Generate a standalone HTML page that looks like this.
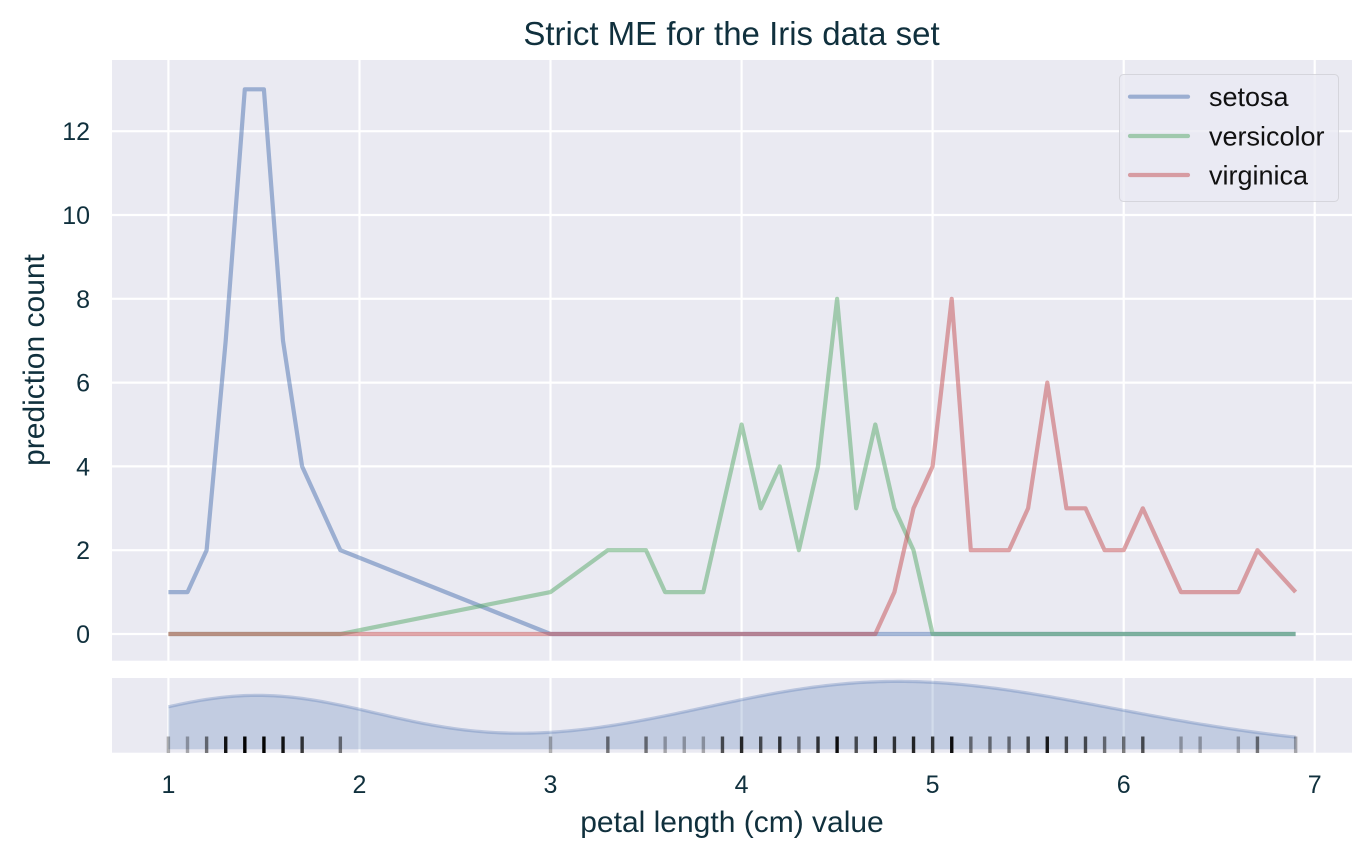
<!DOCTYPE html>
<html>
<head>
<meta charset="utf-8">
<style>
html,body{margin:0;padding:0;background:#ffffff;}
svg{display:block;font-family:"Liberation Sans",Arial,sans-serif;}
</style>
</head>
<body>
<svg id="chart" width="1371" height="860" viewBox="0 0 1371 860" xmlns="http://www.w3.org/2000/svg">
  <rect x="0" y="0" width="1371" height="860" fill="#ffffff"/>

  <!-- title -->
  <text x="731.5" y="45" font-size="33" fill="#10303d" text-anchor="middle">Strict ME for the Iris data set</text>

  <!-- main axes background -->
  <rect x="112" y="60" width="1240" height="600.7" fill="#eaeaf2"/>
  <g stroke="#ffffff" stroke-width="2.2">
    <line x1="168.4" y1="60" x2="168.4" y2="660.7"/>
    <line x1="359.5" y1="60" x2="359.5" y2="660.7"/>
    <line x1="550.5" y1="60" x2="550.5" y2="660.7"/>
    <line x1="741.6" y1="60" x2="741.6" y2="660.7"/>
    <line x1="932.6" y1="60" x2="932.6" y2="660.7"/>
    <line x1="1123.7" y1="60" x2="1123.7" y2="660.7"/>
    <line x1="1314.7" y1="60" x2="1314.7" y2="660.7"/>
    <line x1="112" y1="634" x2="1352" y2="634"/>
    <line x1="112" y1="550.2" x2="1352" y2="550.2"/>
    <line x1="112" y1="466.4" x2="1352" y2="466.4"/>
    <line x1="112" y1="382.6" x2="1352" y2="382.6"/>
    <line x1="112" y1="298.8" x2="1352" y2="298.8"/>
    <line x1="112" y1="215" x2="1352" y2="215"/>
    <line x1="112" y1="131.2" x2="1352" y2="131.2"/>
  </g>

  <!-- series -->
  <g fill="none" stroke-width="4.2" stroke-linejoin="round" stroke-linecap="butt" stroke-opacity="0.5">
    <polyline stroke="#4C72B0" points="168.4,592.1 187.5,592.1 206.6,550.2 225.7,340.7 244.8,89.3 263.9,89.3 283.0,340.7 302.1,466.4 340.4,550.2 550.5,634 1295.6,634"/>
    <polyline stroke="#55A868" points="168.4,634 340.4,634 550.5,592.1 607.8,550.2 646.0,550.2 665.1,592.1 684.2,592.1 703.3,592.1 722.4,508.3 741.6,424.5 760.7,508.3 779.8,466.4 798.9,550.2 818.0,466.4 837.1,298.8 856.2,508.3 875.3,424.5 894.4,508.3 913.5,550.2 932.6,634 1295.6,634"/>
    <polyline stroke="#C44E52" points="168.4,634 875.3,634 894.4,592.1 913.5,508.3 932.6,466.4 951.7,298.8 970.8,550.2 989.9,550.2 1009.0,550.2 1028.1,508.3 1047.3,382.6 1066.4,508.3 1085.5,508.3 1104.6,550.2 1123.7,550.2 1142.8,508.3 1181.0,592.1 1200.1,592.1 1238.3,592.1 1257.4,550.2 1295.6,592.1"/>
  </g>

  <!-- legend -->
  <rect x="1119.5" y="74.5" width="219" height="127" rx="4" ry="4" fill="#eaeaf2" fill-opacity="0.8" stroke="#cfcfd6" stroke-opacity="0.8" stroke-width="1"/>
  <g stroke-width="4.2" stroke-linecap="round" stroke-opacity="0.5">
    <line x1="1130" y1="96.7" x2="1188" y2="96.7" stroke="#4C72B0"/>
    <line x1="1130" y1="136" x2="1188" y2="136" stroke="#55A868"/>
    <line x1="1130" y1="175" x2="1188" y2="175" stroke="#C44E52"/>
  </g>
  <g font-size="27" fill="#111111">
    <text x="1209" y="106">setosa</text>
    <text x="1209" y="145.5">versicolor</text>
    <text x="1209" y="184.5">virginica</text>
  </g>

  <!-- y tick labels -->
  <g font-size="25" fill="#10303d" text-anchor="end">
    <text x="90" y="643">0</text>
    <text x="90" y="559.2">2</text>
    <text x="90" y="475.4">4</text>
    <text x="90" y="391.6">6</text>
    <text x="90" y="307.8">8</text>
    <text x="90" y="224">10</text>
    <text x="90" y="140.2">12</text>
  </g>
  <text transform="translate(44,360) rotate(-90)" font-size="30" fill="#10303d" text-anchor="middle">prediction count</text>

  <!-- lower axes -->
  <rect x="112" y="678" width="1240" height="74.7" fill="#eaeaf2"/>
  <g stroke="#ffffff" stroke-width="2.2">
    <line x1="168.4" y1="678" x2="168.4" y2="752.7"/>
    <line x1="359.5" y1="678" x2="359.5" y2="752.7"/>
    <line x1="550.5" y1="678" x2="550.5" y2="752.7"/>
    <line x1="741.6" y1="678" x2="741.6" y2="752.7"/>
    <line x1="932.6" y1="678" x2="932.6" y2="752.7"/>
    <line x1="1123.7" y1="678" x2="1123.7" y2="752.7"/>
    <line x1="1314.7" y1="678" x2="1314.7" y2="752.7"/>
  </g>
  <path id="kfill" d="" fill="#4C72B0" fill-opacity="0.25" stroke="none"/>
  <path id="kline" d="" fill="none" stroke="#4C72B0" stroke-opacity="0.3" stroke-width="3.2"/>
  <g id="rug" stroke="#000000" stroke-width="3.4"></g>

  <!-- x tick labels -->
  <g font-size="25" fill="#10303d" text-anchor="middle">
    <text x="168.4" y="793">1</text>
    <text x="359.5" y="793">2</text>
    <text x="550.5" y="793">3</text>
    <text x="741.6" y="793">4</text>
    <text x="932.6" y="793">5</text>
    <text x="1123.7" y="793">6</text>
    <text x="1314.7" y="793">7</text>
  </g>
  <text x="732" y="832" font-size="30" fill="#10303d" text-anchor="middle">petal length (cm) value</text>
</svg>
<script>
(function(){
  var vals=[[1.0,1],[1.1,1],[1.2,2],[1.3,7],[1.4,13],[1.5,13],[1.6,7],[1.7,4],[1.9,2],
  [3.0,1],[3.3,2],[3.5,2],[3.6,1],[3.7,1],[3.8,1],[3.9,3],[4.0,5],[4.1,3],[4.2,4],[4.3,2],[4.4,4],
  [4.5,8],[4.6,3],[4.7,5],[4.8,4],[4.9,5],[5.0,4],[5.1,8],[5.2,2],[5.3,2],[5.4,2],[5.5,3],[5.6,6],
  [5.7,3],[5.8,3],[5.9,2],[6.0,2],[6.1,3],[6.3,1],[6.4,1],[6.6,1],[6.7,2],[6.9,1]];
  function X(v){return 168.4+(v-1)*191.06;}
  var n=0,s=0,i;
  for(i=0;i<vals.length;i++){n+=vals[i][1];s+=vals[i][0]*vals[i][1];}
  var mean=s/n,ss=0;
  for(i=0;i<vals.length;i++){var d=vals[i][0]-mean;ss+=d*d*vals[i][1];}
  var sd=Math.sqrt(ss/(n-1));
  var bw=sd*Math.pow(n,-0.2);
  var N=300,pts=[],mx=0;
  for(i=0;i<=N;i++){
    var x=1+5.9*i/N,dens=0;
    for(var j=0;j<vals.length;j++){var z=(x-vals[j][0])/bw;dens+=vals[j][1]*Math.exp(-0.5*z*z);}
    dens/=(n*bw*Math.sqrt(2*Math.PI));
    pts.push([x,dens]);if(dens>mx)mx=dens;
  }
  var base=749.3,h=67.9;
  var line="",fill="M"+X(1).toFixed(2)+","+base;
  for(i=0;i<pts.length;i++){
    var px=X(pts[i][0]).toFixed(2),py=(base-pts[i][1]/mx*h).toFixed(2);
    line+=(i?"L":"M")+px+","+py;
    fill+="L"+px+","+py;
  }
  fill+="L"+X(6.9).toFixed(2)+","+base+"Z";
  document.getElementById("kfill").setAttribute("d",fill);
  document.getElementById("kline").setAttribute("d",line);
  var rug=document.getElementById("rug"),ns="http://www.w3.org/2000/svg";
  for(i=0;i<vals.length;i++){
    var l=document.createElementNS(ns,"line"),xx=X(vals[i][0]);
    l.setAttribute("x1",xx);l.setAttribute("x2",xx);
    l.setAttribute("y1",736.5);l.setAttribute("y2",753);
    l.setAttribute("stroke-opacity",(1-Math.pow(0.7,vals[i][1])).toFixed(3));
    rug.appendChild(l);
  }
})();
</script>
</body>
</html>
